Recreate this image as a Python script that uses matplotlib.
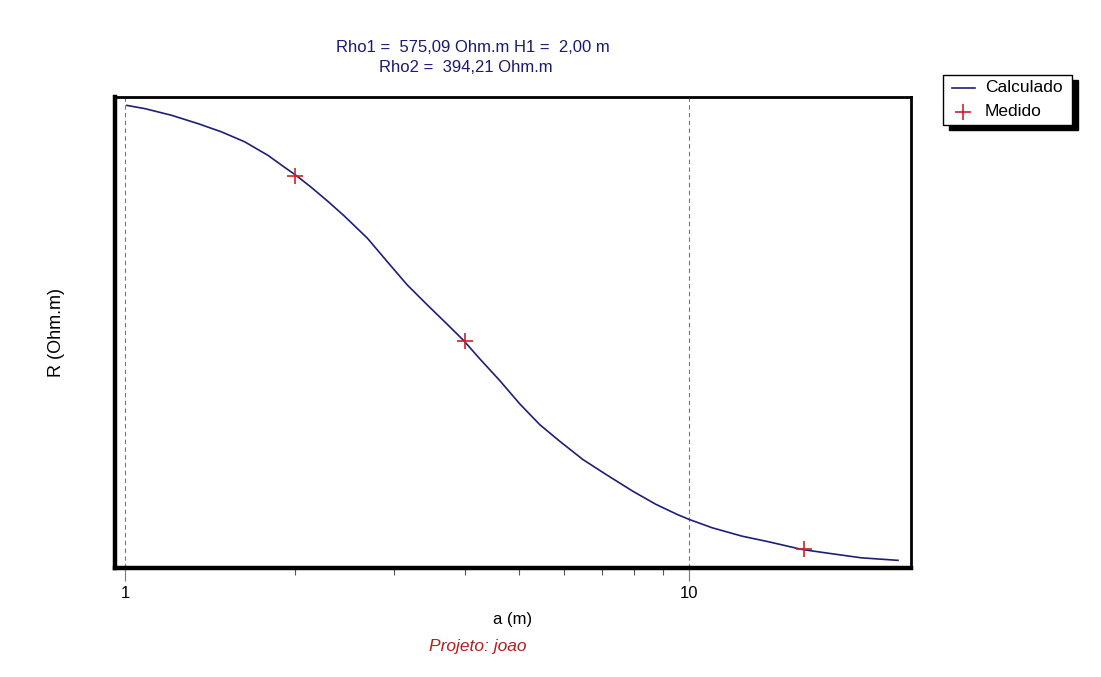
import matplotlib
matplotlib.use("Agg")
import matplotlib.pyplot as plt
from matplotlib.ticker import FixedLocator, NullFormatter, NullLocator
from matplotlib.patches import Rectangle

# calculated curve
a_calc = [1.008, 1.086, 1.210, 1.349, 1.483, 1.630, 1.792, 1.918, 2.011, 2.137,
          2.287, 2.447, 2.691, 2.918, 3.165, 3.433, 3.724, 3.983, 4.263, 4.623,
          5.014, 5.438, 5.898, 6.485, 7.131, 7.943, 8.737, 9.537, 10.0, 10.99,
          12.42, 13.84, 15.84, 17.66, 20.21, 23.47]
r_calc = [574.7, 573.4, 570.8, 567.5, 564.3, 560.4, 555.1, 550.4, 547.2, 542.6,
          537.1, 531.3, 522.5, 513.3, 504.2, 496.4, 488.8, 482.4, 475.0, 466.5,
          457.4, 449.3, 442.8, 435.6, 429.7, 423.2, 418.0, 414.0, 412.1, 408.8,
          405.5, 403.3, 400.3, 398.8, 397.0, 396.0]

# measured points
a_meas = [2.0, 4.0, 16.0]
r_meas = [546.8, 482.0, 400.3]

major_ticks = [1, 10]
minor_ticks = [2, 3, 4, 5, 6, 7, 8, 9]

title1 = "Rho1 =  575,09 Ohm.m H1 =  2,00 m"
title2 = "Rho2 =  394,21 Ohm.m"

plt.rcParams['font.family'] = ['Liberation Sans', 'DejaVu Sans']

W, H = 1101, 677
fig = plt.figure(figsize=(W / 100, H / 100), dpi=100)
ax = fig.add_axes([115 / W, (H - 568) / H, 796 / W, 471 / H])

line_col = '#1e1e78'
mark_col = '#d0202a'

ax.plot(a_calc, r_calc, color=line_col, lw=1.2, zorder=3)
ax.plot(a_meas, r_meas, ls='none', marker='+', ms=11, mew=1.2, color=mark_col, zorder=4)

ax.set_xscale('log')
ax.set_xlim(0.960, 24.75)
ax.set_ylim(393, 578)

ax.xaxis.set_major_locator(FixedLocator(major_ticks))
ax.xaxis.set_minor_locator(FixedLocator(minor_ticks))
ax.xaxis.set_minor_formatter(NullFormatter())
ax.set_xticklabels([str(t) for t in major_ticks])
ax.tick_params(axis='x', which='major', length=9, width=0.8, color='#777777',
               labelsize=12, pad=4)
ax.tick_params(axis='x', which='minor', length=5, width=0.8, color='#555555')
ax.yaxis.set_major_locator(NullLocator())

for t in major_ticks:
    ax.axvline(t, color='#777777', lw=0.8, ls=(0, (4, 3)), zorder=1)

for s in ['left', 'bottom']:
    ax.spines[s].set_linewidth(3.2)
for s in ['top', 'right']:
    ax.spines[s].set_linewidth(2)

ax.set_xlabel("a (m)", fontsize=12, labelpad=8)
ax.set_ylabel("R (Ohm.m)", fontsize=13, labelpad=36)

fig.text(473 / W, 1 - 47 / H, title1, ha='center', va='center',
         color='#1a1a70', fontsize=12)
fig.text(466 / W, 1 - 68 / H, title2, ha='center', va='center',
         color='#1a1a70', fontsize=12)
fig.text(478 / W, 1 - 647 / H, "Projeto: joao", ha='center', va='center',
         color='#b02020', fontsize=12.5, style='italic')

# legend with shadow box
lx0, ly0, lw_, lh_ = 943 / W, 1 - 125 / H, 129 / W, 50 / H
fig.add_artist(Rectangle((lx0 + 6 / W, ly0 - 5 / H), lw_, lh_,
                         transform=fig.transFigure, facecolor='black',
                         edgecolor='black', zorder=5))
fig.add_artist(Rectangle((lx0, ly0), lw_, lh_, transform=fig.transFigure,
                         facecolor='white', edgecolor='black', lw=1, zorder=6))
leg_ax = fig.add_axes([lx0, ly0, lw_, lh_], zorder=7)
leg_ax.set_xlim(0, 129)
leg_ax.set_ylim(50, 0)
leg_ax.axis('off')
leg_ax.plot([9, 32], [13, 13], color=line_col, lw=1.2)
leg_ax.plot([20], [37], marker='+', ms=11, mew=1.2, color=mark_col)
leg_ax.text(42, 13, "Calculado", va='center', ha='left', fontsize=12.5)
leg_ax.text(42, 37, "Medido", va='center', ha='left', fontsize=12.5)

fig.savefig("out.png", dpi=100, facecolor='white')
